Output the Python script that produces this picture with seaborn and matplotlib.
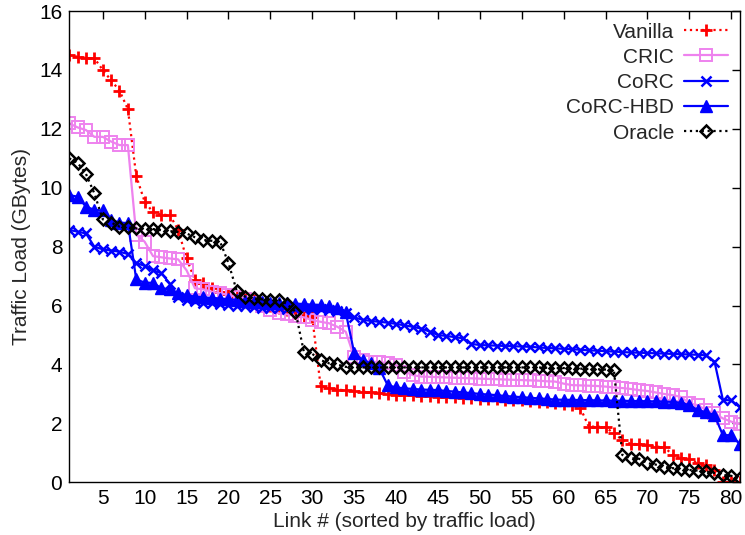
import numpy as np
import pandas as pd
import matplotlib
matplotlib.use("Agg")
import matplotlib.pyplot as plt
import seaborn as sns

links = list(range(1, 82))

vanilla = [14.5, 14.45, 14.4, 14.4, 14.0, 13.65, 13.3, 12.67, 10.4, 9.53,
           9.17, 9.08, 9.08, 8.57, 7.6, 6.87, 6.78, 6.6, 6.47, 6.4,
           6.3, 6.25, 6.2, 6.1, 6.0, 5.92, 5.85, 5.75, 5.65, 5.6,
           3.27, 3.2, 3.15, 3.12, 3.1, 3.08, 3.05, 3.03, 3.0, 2.98,
           2.96, 2.95, 2.93, 2.92, 2.9, 2.89, 2.88, 2.87, 2.85, 2.84,
           2.83, 2.82, 2.8, 2.79, 2.78, 2.77, 2.74, 2.72, 2.7, 2.67,
           2.62, 2.52, 1.89, 1.89, 1.87, 1.66, 1.44, 1.3, 1.3, 1.28,
           1.21, 1.2, 0.93, 0.82, 0.8, 0.65, 0.6, 0.42, 0.0, 0.0, 0.0]

cric = [12.19, 12.05, 11.96, 11.73, 11.73, 11.57, 11.45, 11.45, 8.4, 8.17,
        7.68, 7.64, 7.6, 7.57, 7.2, 6.59, 6.55, 6.47, 6.42, 6.36,
        6.3, 6.22, 6.1, 6.0, 5.85, 5.74, 5.7, 5.65, 5.6, 5.51,
        5.45, 5.4, 5.28, 5.11, 4.26, 4.15, 4.1, 4.08, 4.05, 3.98,
        3.76, 3.64, 3.59, 3.58, 3.57, 3.56, 3.55, 3.54, 3.53, 3.52,
        3.51, 3.5, 3.49, 3.48, 3.47, 3.46, 3.45, 3.43, 3.42, 3.35,
        3.3, 3.29, 3.28, 3.27, 3.25, 3.22, 3.2, 3.17, 3.13, 3.1,
        3.05, 3.0, 2.96, 2.9, 2.68, 2.62, 2.45, 2.34, 2.17, 2.06, 1.98]

corc = [8.57, 8.51, 8.45, 8.0, 7.91, 7.87, 7.83, 7.75, 7.45, 7.35,
        7.2, 7.1, 6.75, 6.3, 6.2, 6.15, 6.1, 6.08, 6.05, 6.03,
        6.0, 5.98, 5.95, 5.93, 5.92, 5.92, 5.9, 5.9, 5.9, 5.88,
        5.87, 5.85, 5.8, 5.75, 5.6, 5.52, 5.48, 5.45, 5.42, 5.38,
        5.33, 5.28, 5.22, 5.12, 5.0, 4.97, 4.93, 4.89, 4.7, 4.66,
        4.65, 4.64, 4.63, 4.62, 4.61, 4.6, 4.58, 4.56, 4.55, 4.53,
        4.52, 4.5, 4.48, 4.47, 4.45, 4.44, 4.42, 4.41, 4.4, 4.39,
        4.38, 4.37, 4.36, 4.35, 4.34, 4.33, 4.31, 4.1, 2.8, 2.78, 2.55]

corc_hbd = [9.75, 9.7, 9.36, 9.25, 9.23, 8.9, 8.82, 8.8, 6.89, 6.78,
            6.77, 6.59, 6.55, 6.42, 6.36, 6.3, 6.28, 6.26, 6.24, 6.22,
            6.19, 6.16, 6.13, 6.12, 6.1, 6.09, 6.08, 6.07, 6.05, 6.03,
            6.02, 5.98, 5.91, 5.77, 4.4, 4.15, 4.04, 3.87, 3.3, 3.22,
            3.19, 3.17, 3.15, 3.14, 3.13, 3.1, 3.08, 3.05, 3.03, 3.0,
            2.98, 2.96, 2.93, 2.91, 2.89, 2.87, 2.85, 2.83, 2.81, 2.8,
            2.8, 2.79, 2.79, 2.78, 2.78, 2.77, 2.77, 2.76, 2.76, 2.75,
            2.75, 2.74, 2.73, 2.7, 2.62, 2.45, 2.38, 2.28, 1.6, 1.6, 1.3]

oracle = [11.0, 10.85, 10.47, 9.81, 8.93, 8.82, 8.68, 8.66, 8.62, 8.6,
          8.6, 8.56, 8.53, 8.5, 8.45, 8.32, 8.23, 8.2, 8.17, 7.45,
          6.49, 6.3, 6.25, 6.21, 6.2, 6.2, 6.05, 5.79, 4.43, 4.36,
          4.15, 4.04, 4.0, 3.92, 3.9, 3.9, 3.9, 3.9, 3.9, 3.9,
          3.9, 3.9, 3.9, 3.9, 3.9, 3.9, 3.9, 3.9, 3.9, 3.9,
          3.9, 3.9, 3.9, 3.9, 3.9, 3.9, 3.9, 3.89, 3.88, 3.88,
          3.87, 3.86, 3.85, 3.84, 3.83, 3.81, 0.93, 0.82, 0.8, 0.65,
          0.6, 0.53, 0.48, 0.46, 0.42, 0.4, 0.37, 0.31, 0.25, 0.22, 0.14]

series_names = ["Vanilla", "CRIC", "CoRC", "CoRC-HBD", "Oracle"]
series_values = [vanilla, cric, corc, corc_hbd, oracle]

x_ticks = list(range(5, 81, 5))
y_ticks = list(range(0, 17, 2))

sns.set_theme(style="white")
plt.rcParams["font.family"] = ["Liberation Sans", "DejaVu Sans"]

fig = plt.figure(figsize=(7.45, 5.35), dpi=100)
ax = fig.add_axes([0.0929, 0.0985, 0.8999, 0.8808])

styles = {
    "Vanilla": dict(color="#ff0000", linestyle=":", marker="+", markersize=9,
                    markeredgecolor="#ff0000", markeredgewidth=2.0),
    "CRIC": dict(color="#ee82ee", linestyle="-", marker="s", markersize=9,
                 markerfacecolor="none", markeredgecolor="#ee82ee", markeredgewidth=1.4),
    "CoRC": dict(color="#0000ff", linestyle="-", marker="x", markersize=7,
                 markeredgecolor="#0000ff", markeredgewidth=1.8),
    "CoRC-HBD": dict(color="#0000ff", linestyle="-", marker="^", markersize=8,
                     markerfacecolor="#0000ff", markeredgecolor="#0000ff",
                     markeredgewidth=1.0),
    "Oracle": dict(color="#000000", linestyle=":", marker="D", markersize=6,
                   markerfacecolor="none", markeredgecolor="#000000", markeredgewidth=1.8),
}

for name, vals in zip(series_names, series_values):
    df = pd.DataFrame({"link": links, "load": vals})
    sns.lineplot(data=df, x="link", y="load", ax=ax, label=name,
                 linewidth=1.6, **styles[name])

ax.set_xlim(1, 81)
ax.set_ylim(0, 16)
ax.set_xticks(x_ticks)
ax.set_yticks(y_ticks)
ax.tick_params(direction="in", top=True, right=True, length=6, width=1,
               labelsize=15, colors="black", pad=5)
for s in ax.spines.values():
    s.set_visible(True)
    s.set_color("black")
    s.set_linewidth(1.0)
ax.grid(False)
ax.set_xlabel("Link # (sorted by traffic load)", fontsize=15, labelpad=3)
ax.set_ylabel("Traffic Load (GBytes)", fontsize=15, labelpad=6)

leg = ax.legend(loc="upper right", frameon=False, markerfirst=False,
                fontsize=15, handlelength=2.1, labelspacing=0.3,
                handletextpad=0.5, borderaxespad=0.15)

fig.savefig("out.png", dpi=100)
